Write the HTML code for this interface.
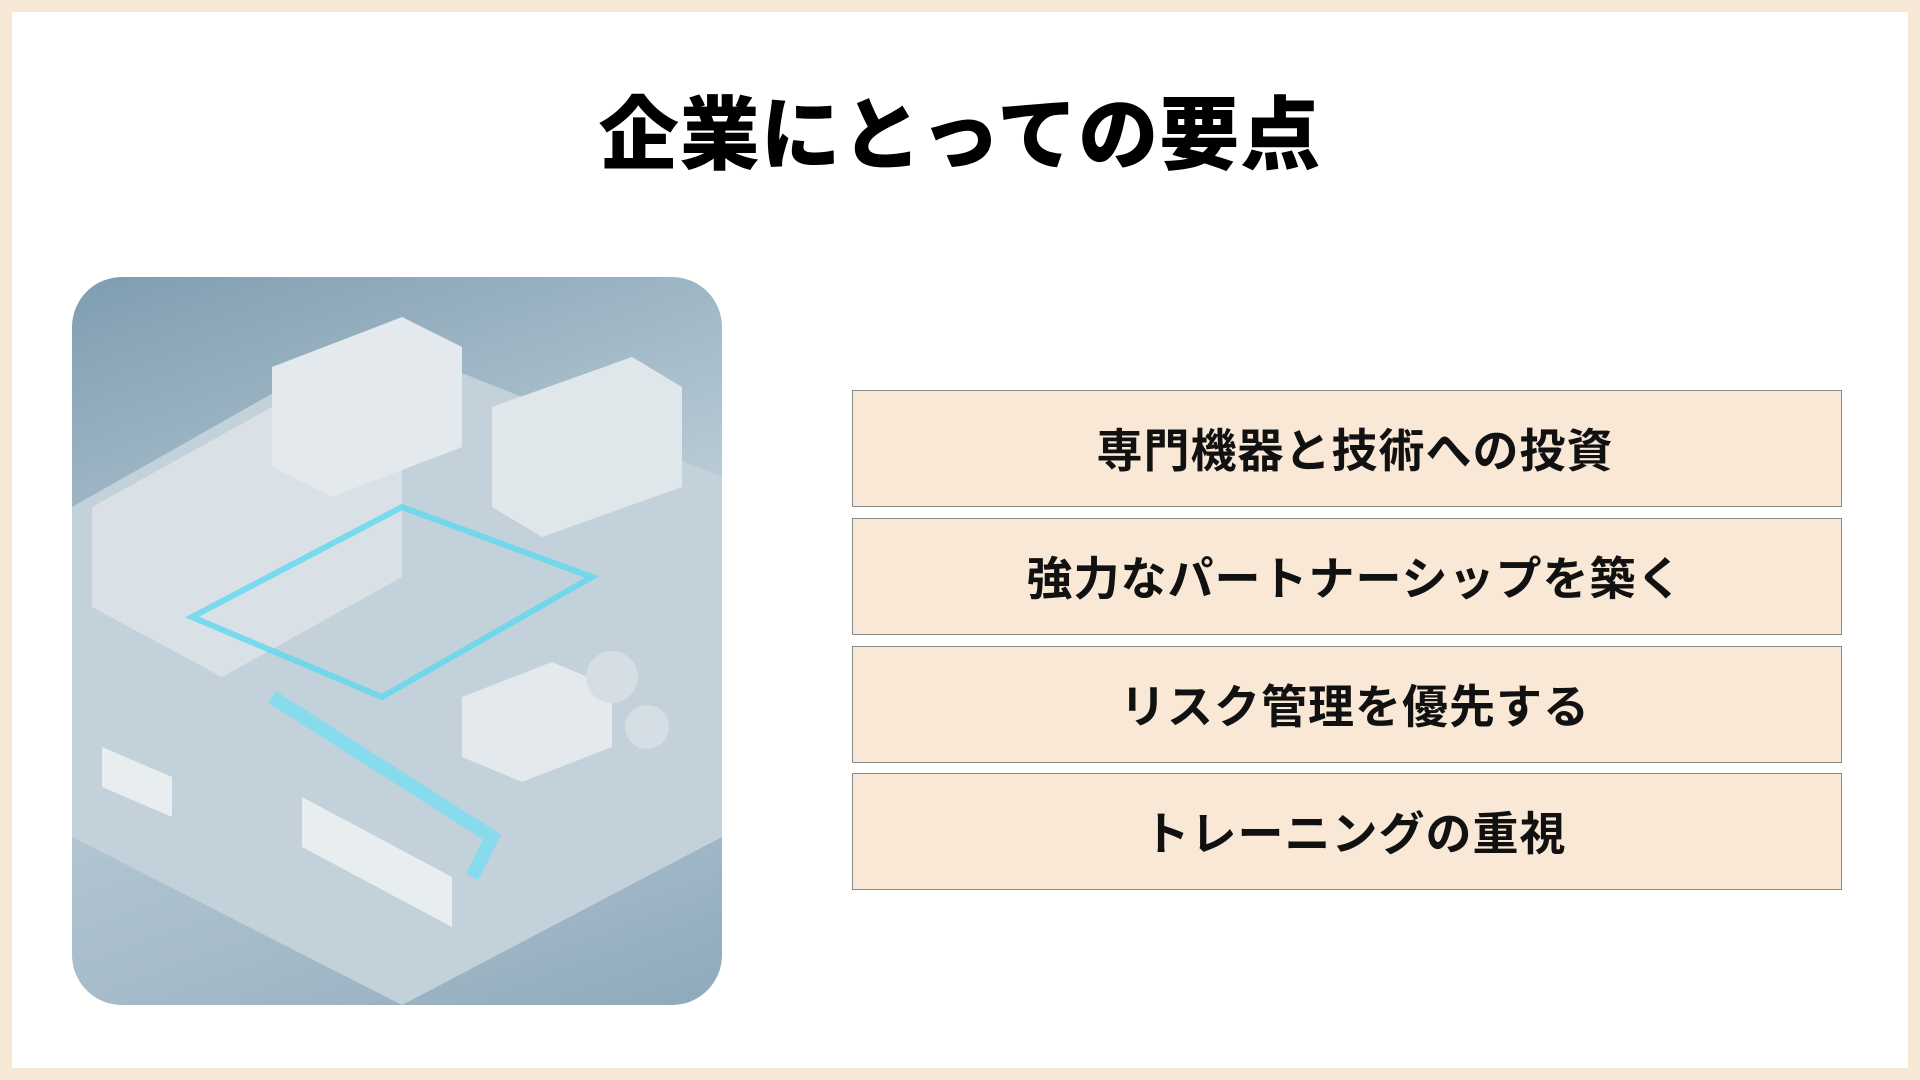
<!DOCTYPE html>
<html><head><meta charset="utf-8"><style>
html,body{margin:0;padding:0}
body{width:1920px;height:1080px;background:#f7e8d6;position:relative;overflow:hidden;font-family:"Liberation Sans","Noto Sans CJK JP",sans-serif}
.inner{position:absolute;left:12px;top:12px;width:1896px;height:1056px;background:#fff}
h1{position:absolute;left:0;width:1920px;top:86px;margin:0;text-align:center;font-size:80px;font-weight:900;color:#000;line-height:100px;letter-spacing:1px}
.img{position:absolute;left:72px;top:277px;width:650px;height:728px;border-radius:50px;overflow:hidden;background:linear-gradient(160deg,#7f9db0 0%,#b8cbd6 45%,#a7bccb 75%,#8eaabb 100%)}
.box{position:absolute;left:852px;width:990px;height:117px;background:#f9e8d5;border:1px solid #8a8a8a;display:flex;align-items:center;justify-content:center;font-size:46px;font-weight:700;color:#111;letter-spacing:1px;padding:0 0 2px 16px;box-sizing:border-box}
</style></head><body>
<div class="inner"></div>
<h1>企業にとっての要点</h1>
<div class="img">
<svg width="650" height="728" viewBox="0 0 650 728">
<polygon points="0,230 300,60 650,200 650,560 330,728 0,560" fill="#c3d1da"/>
<polygon points="20,230 200,130 330,170 330,300 150,400 20,330" fill="#d9e1e6"/>
<polygon points="200,90 330,40 390,70 390,170 260,220 200,190" fill="#e3e9ed"/>
<polygon points="420,130 560,80 610,110 610,210 470,260 420,230" fill="#e0e7eb"/>
<path d="M120,340 L330,230 L520,300 L310,420 Z" fill="none" stroke="#5fd8f0" stroke-width="6" opacity=".8"/>
<path d="M200,420 L420,560 L400,600" fill="none" stroke="#6fe0f5" stroke-width="14" opacity=".7"/>
<polygon points="390,420 480,385 540,410 540,470 450,505 390,480" fill="#e3e9ed"/>
<circle cx="540" cy="400" r="26" fill="#d5dee4"/>
<circle cx="575" cy="450" r="22" fill="#d5dee4"/>
<polygon points="30,470 100,500 100,540 30,510" fill="#e8edf0"/>
<polygon points="230,520 380,600 380,650 230,570" fill="#e8edf0"/>
</svg>
</div>
<div class="box" style="top:390px">専門機器と技術への投資</div>
<div class="box" style="top:518px">強力なパートナーシップを築く</div>
<div class="box" style="top:646px">リスク管理を優先する</div>
<div class="box" style="top:773px">トレーニングの重視</div>
</body></html>
